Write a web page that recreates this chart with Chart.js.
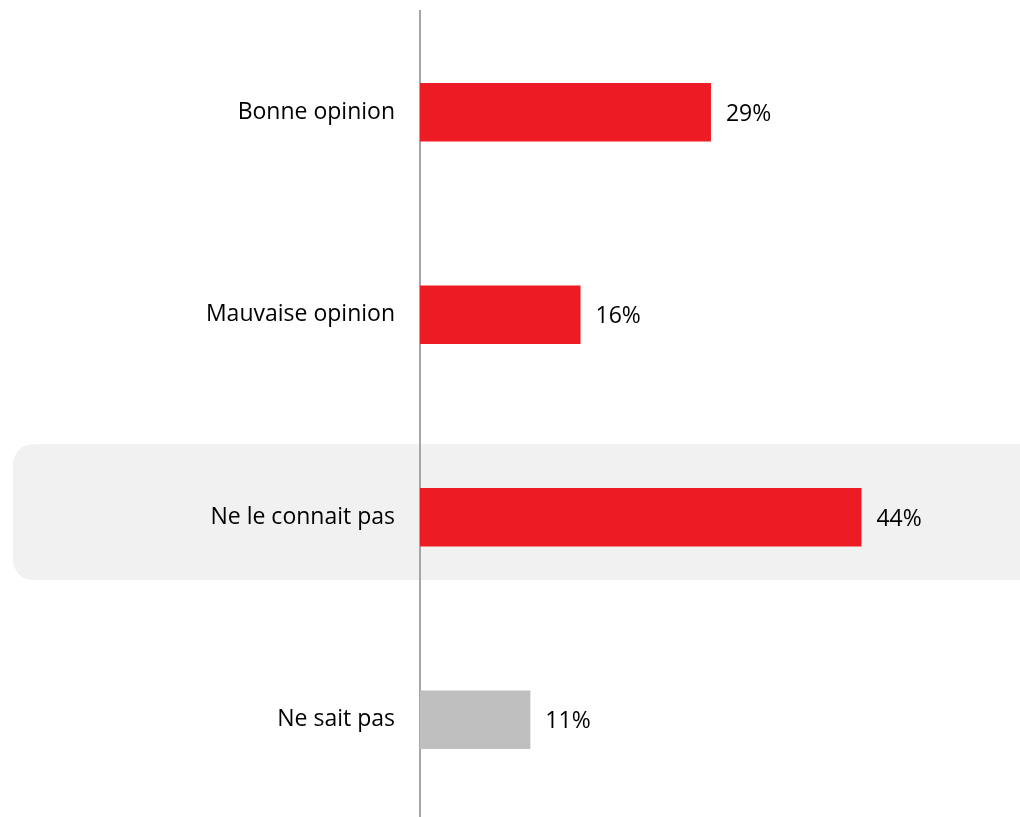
<!DOCTYPE html>
<html lang="fr">
<head>
<meta charset="UTF-8">
<title>Opinion</title>
<script src="https://cdn.jsdelivr.net/npm/chart.js"></script>
<style>
    html, body {
        margin: 0;
        padding: 0;
        background: white;
        overflow: hidden;
    }
    #wrap {
        width: 1022px;
        height: 822px;
    }
</style>
</head>
<body>
<div id="wrap"><canvas id="opinionChart"></canvas></div>
<script>
    const categories = ['Bonne opinion', 'Mauvaise opinion', 'Ne le connait pas', 'Ne sait pas'];
    const values = [29, 16, 44, 11];
    const barColors = ['#ED1C24', '#ED1C24', '#ED1C24', '#BFBFBF'];
    const highlightIndex = 2;

    const FONT = '"Open Sans", "Noto Sans", sans-serif';

    // grey rounded box behind the highlighted row (drawn before axes)
    const highlightPlugin = {
        id: 'highlight',
        beforeDraw(chart) {
            const ctx = chart.ctx;
            const y = chart.scales.y;
            const band = y.getPixelForValue(1) - y.getPixelForValue(0);
            const mid = y.getPixelForValue(highlightIndex);
            const top = mid - band * 0.36;
            const bottom = mid + band * 0.31;
            const left = 13;
            const right = chart.width + 30;
            const r = 20;
            ctx.save();
            ctx.fillStyle = '#F1F1F1';
            ctx.beginPath();
            ctx.moveTo(left + r, top);
            ctx.lineTo(right, top);
            ctx.lineTo(right, bottom);
            ctx.lineTo(left + r, bottom);
            ctx.arcTo(left, bottom, left, bottom - r, r);
            ctx.lineTo(left, top + r);
            ctx.arcTo(left, top, left + r, top, r);
            ctx.closePath();
            ctx.fill();
            ctx.restore();
        }
    };

    const valueLabels = {
        id: 'valueLabels',
        afterDatasetsDraw(chart) {
            const ctx = chart.ctx;
            const meta = chart.getDatasetMeta(0);
            ctx.save();
            ctx.font = '23px ' + FONT;
            ctx.fillStyle = '#000';
            ctx.textAlign = 'left';
            ctx.textBaseline = 'middle';
            meta.data.forEach((bar, i) => {
                ctx.fillText(values[i] + '%', bar.x + 15, bar.y + 2);
            });
            ctx.restore();
        }
    };

    const chart = new Chart(document.getElementById('opinionChart'), {
        type: 'bar',
        data: {
            labels: categories,
            datasets: [{
                data: values,
                backgroundColor: barColors,
                borderWidth: 0,
                barPercentage: 0.29,
                categoryPercentage: 1
            }]
        },
        options: {
            indexAxis: 'y',
            responsive: true,
            maintainAspectRatio: false,
            animation: false,
            layout: { padding: { top: 11, bottom: 1, left: 0, right: 0 } },
            plugins: {
                legend: { display: false },
                tooltip: { enabled: false }
            },
            scales: {
                x: {
                    display: false,
                    min: 0,
                    max: 60
                },
                y: {
                    grid: { display: false, drawTicks: false },
                    border: { display: true, color: '#A6A6A6', width: 2 },
                    ticks: {
                        color: '#000',
                        padding: 25,
                        font: { family: FONT, size: 23 }
                    },
                    afterFit(scale) {
                        scale.width = 420;
                        scale.paddingTop = 0;
                        scale.paddingBottom = 0;
                    }
                }
            }
        },
        plugins: [highlightPlugin, valueLabels]
    });
</script>
</body>
</html>
